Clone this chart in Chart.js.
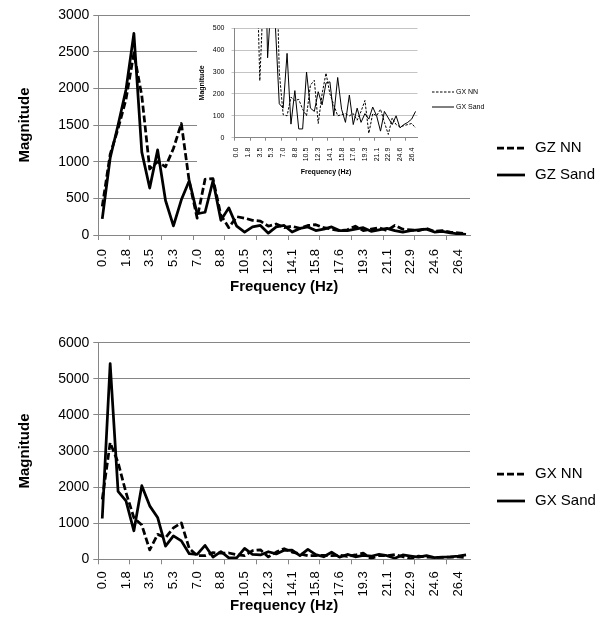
<!DOCTYPE html>
<html>
<head>
<meta charset="utf-8">
<title>GZ / GX magnitude spectra</title>
<script src="https://cdn.jsdelivr.net/npm/chart.js@4.4.0/dist/chart.umd.min.js"></script>
<style>
  html, body { margin: 0; padding: 0; background: #fff; }
  #wrap { position: relative; width: 616px; height: 632px; }
  canvas { position: absolute; }
  #top { left: 0; top: 0; }
  #bottom { left: 0; top: 316px; }
  #inset { left: 197px; top: 17px; background: #fff; }
</style>
</head>
<body>
<div id="wrap">
  <canvas id="top" width="616" height="316"></canvas>
  <canvas id="bottom" width="616" height="316"></canvas>
  <canvas id="inset" width="293" height="160"></canvas>
</div>
<script>
// frequency bins (Hz), one label shown every 3 bins
const freqLabels = ['0.0','0.6','1.2','1.8','2.3','2.9','3.5','4.1','4.7','5.3','5.9','6.4','7.0','7.6','8.2','8.8',
  '9.4','10.0','10.5','11.1','11.7','12.3','12.9','13.5','14.1','14.6','15.2','15.8','16.4','17.0','17.6','18.2',
  '18.8','19.3','19.9','20.5','21.1','21.7','22.3','22.9','23.4','24.0','24.6','25.2','25.8','26.4','27.0'];

const gzNN = [390,1100,1450,1850,2480,1900,900,1000,930,1180,1520,730,230,760,770,270,100,250,230,200,190,120,150,100,
  120,90,130,140,100,80,60,70,120,60,80,100,60,130,80,70,60,90,50,60,40,30,20];
const gzSand = [220,1050,1500,1980,2750,1130,640,1160,470,125,480,740,290,310,740,200,370,120,40,110,130,25,110,130,
  40,90,110,60,80,110,60,60,80,100,50,70,90,60,40,60,70,80,40,50,30,15,10];

const gxNN = [1660,3230,2680,1850,1150,950,260,690,600,870,1010,300,105,100,185,170,175,130,100,240,262,65,200,295,
  200,150,100,105,110,100,110,80,120,170,20,110,100,130,70,15,90,60,50,55,60,65,45];
const gxSand = [1130,5420,1880,1620,790,2040,1480,1160,365,650,510,155,135,385,62,215,40,40,300,135,120,210,150,250,
  255,100,275,130,70,195,60,135,70,110,85,140,100,30,120,90,60,100,45,60,70,85,120];

const labelEvery = 3;
const tickEvery = 4;

Chart.defaults.font.family = '"Liberation Sans", Arial, sans-serif';
Chart.defaults.color = '#000';

const axisGray = '#868686';

// legend drawn to the right of the plot, Excel style
const sideLegend = {
  id: 'sideLegend',
  afterDraw(chart, args, opts) {
    const ctx = chart.ctx;
    ctx.save();
    ctx.font = opts.font;
    ctx.fillStyle = '#000';
    ctx.textBaseline = 'middle';
    chart.data.datasets.forEach((ds, i) => {
      const y = opts.y + i * opts.step;
      ctx.beginPath();
      ctx.setLineDash(ds.borderDash || []);
      ctx.lineWidth = ds.borderWidth;
      ctx.strokeStyle = ds.borderColor;
      ctx.moveTo(opts.x, y);
      ctx.lineTo(opts.x + opts.len, y);
      ctx.stroke();
      ctx.setLineDash([]);
      ctx.fillText(ds.label, opts.x + opts.len + opts.gap, y);
    });
    ctx.restore();
  }
};

function series(label, data, width, dash) {
  return {
    label: label, data: data,
    borderColor: '#000', backgroundColor: '#000',
    borderWidth: width, borderDash: dash,
    pointRadius: 0, tension: 0, fill: false,
    borderJoinStyle: 'round'
  };
}

function freqAxis(o) {
  return {
    type: 'category',
    offset: true,
    grid: {
      offset: true,
      drawOnChartArea: false,
      tickLength: o.tickLen,
      color: ctx => ctx.index % tickEvery === 0 ? o.axisColor : 'rgba(0,0,0,0)'
    },
    border: { color: o.axisColor },
    ticks: {
      autoSkip: false, minRotation: 90, maxRotation: 90,
      padding: o.pad,
      font: { size: o.size },
      callback: function(v, i) { return i % labelEvery === 0 ? this.getLabelForValue(v) : ''; }
    },
    title: {
      display: true, text: 'Frequency (Hz)',
      font: { size: o.titleSize, weight: 'bold' },
      padding: { top: 0, bottom: o.titlePad }
    },
    afterFit: s => { s.height = o.height; }
  };
}

function magAxis(o) {
  return {
    min: 0, max: o.max,
    grid: { color: o.gridColor, tickLength: o.tickLen },
    border: { color: o.axisColor },
    ticks: { stepSize: o.step, padding: o.pad, font: { size: o.size }, callback: v => String(v) },
    title: {
      display: true, text: 'Magnitude',
      font: { size: o.titleSize, weight: 'bold' },
      padding: { top: o.titlePad, bottom: 0 }
    },
    afterFit: s => { s.width = o.width; }
  };
}

function baseOptions(pad, legendOpts, x, y) {
  return {
    responsive: false,
    animation: false,
    layout: { padding: pad },
    plugins: { legend: { display: false }, tooltip: { enabled: false }, sideLegend: legendOpts },
    scales: { x: x, y: y }
  };
}

const mainFont = '15px "Liberation Sans", Arial, sans-serif';

// GZ
new Chart(document.getElementById('top'), {
  type: 'line',
  data: { labels: freqLabels, datasets: [series('GZ NN', gzNN, 2.75, [7, 3]), series('GZ Sand', gzSand, 2.75, [])] },
  options: baseOptions(
    { left: 0, top: 15, right: 146, bottom: 0 },
    { x: 497, y: 148, step: 27, len: 28, gap: 10, font: mainFont },
    freqAxis({ tickLen: 5, pad: 9, size: 13, titleSize: 15, titlePad: 20, height: 81, axisColor: axisGray }),
    magAxis({ max: 3000, step: 500, gridColor: axisGray, axisColor: axisGray, tickLen: 5, pad: 4, size: 14, titleSize: 15, titlePad: 16, width: 98.3 })
  ),
  plugins: [sideLegend]
});

// GX
new Chart(document.getElementById('bottom'), {
  type: 'line',
  data: { labels: freqLabels, datasets: [series('GX NN', gxNN, 2.75, [7, 3]), series('GX Sand', gxSand, 2.75, [])] },
  options: baseOptions(
    { left: 0, top: 26.7, right: 146, bottom: 0 },
    { x: 497, y: 158, step: 27, len: 28, gap: 10, font: mainFont },
    freqAxis({ tickLen: 5, pad: 7, size: 13, titleSize: 15, titlePad: 17, height: 72.7, axisColor: axisGray }),
    magAxis({ max: 6000, step: 1000, gridColor: axisGray, axisColor: axisGray, tickLen: 5, pad: 4, size: 14, titleSize: 15, titlePad: 16, width: 98.3 })
  ),
  plugins: [sideLegend]
});

// GX zoom, 0-500
new Chart(document.getElementById('inset'), {
  type: 'line',
  data: { labels: freqLabels, datasets: [series('GX NN', gxNN, 1, [2.5, 1.5]), series('GX Sand', gxSand, 1, [])] },
  options: baseOptions(
    { left: 0, top: 5.3, right: 72.5, bottom: 0 },
    { x: 235, y: 75, step: 15, len: 22, gap: 2, font: '7px "Liberation Sans", Arial, sans-serif' },
    freqAxis({ tickLen: 3, pad: 7, size: 7, titleSize: 7, titlePad: 1, height: 39.3, axisColor: axisGray }),
    magAxis({ max: 500, step: 50, gridColor: '#c4c4c4', axisColor: axisGray, tickLen: 3, pad: 7, size: 7, titleSize: 7, titlePad: 1, width: 37.5 })
  ),
  plugins: [sideLegend]
});
</script>
</body>
</html>
